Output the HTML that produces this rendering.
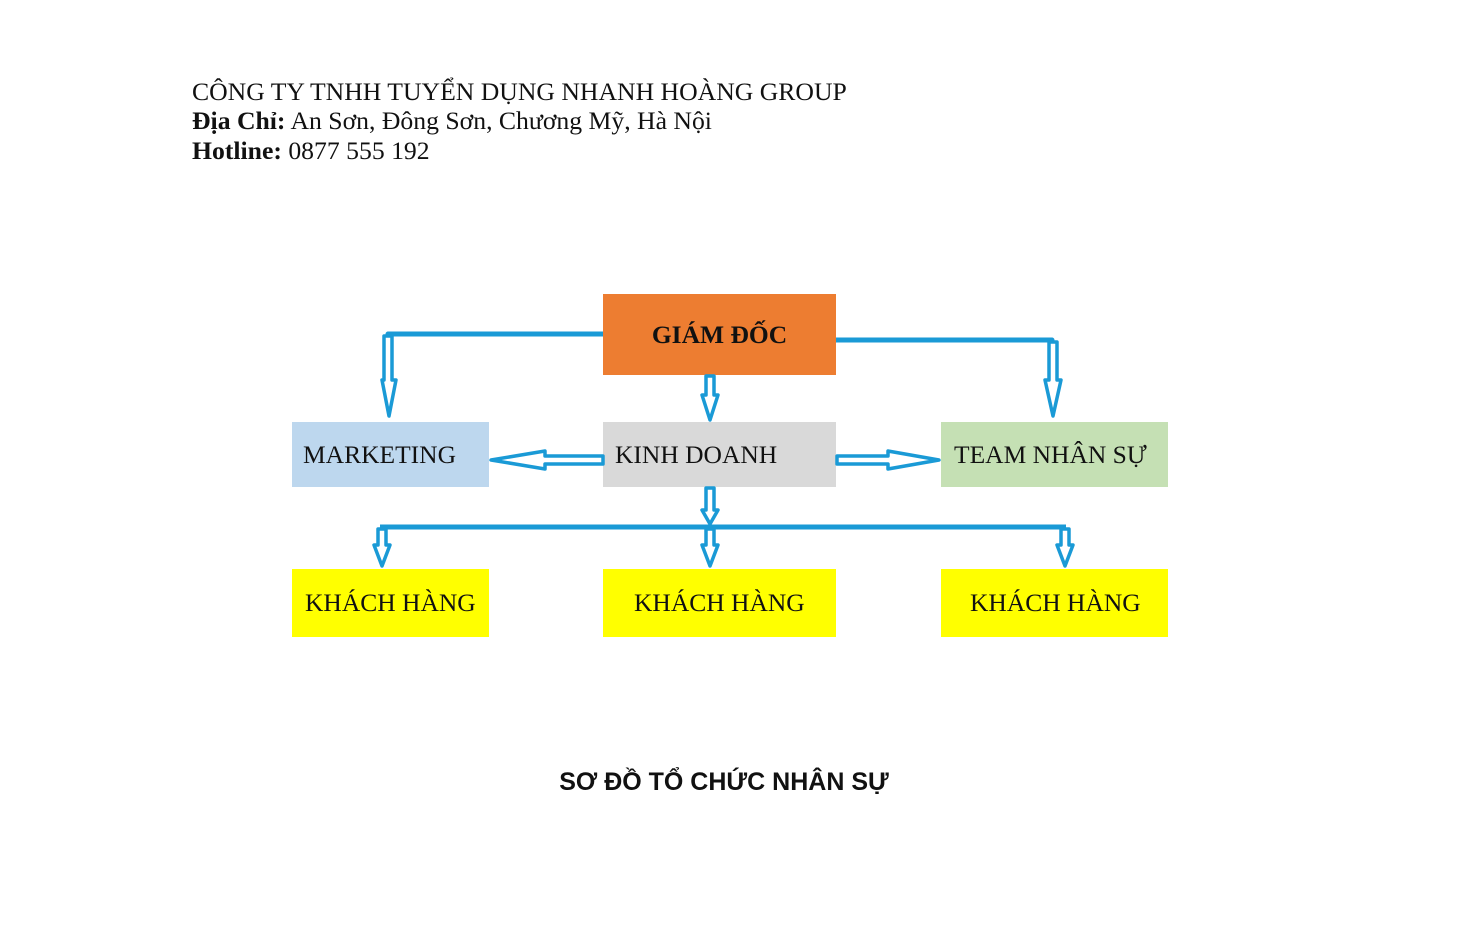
<!DOCTYPE html>
<html><head><meta charset="utf-8"><style>
body{margin:0;width:1472px;height:944px;background:#fff;position:relative;overflow:hidden;font-family:"Liberation Serif",serif;}
.h{position:absolute;left:192px;font-size:25.7px;color:#111;white-space:nowrap;line-height:30px}
.b{position:absolute;font-size:25.5px;color:#111;display:flex;align-items:center;white-space:nowrap;box-sizing:border-box}
svg{position:absolute;left:0;top:0}
</style></head><body>
<div class="h" style="top:77px">CÔNG TY TNHH TUYỂN DỤNG NHANH HOÀNG GROUP</div>
<div class="h" style="top:106px"><b>Địa Chỉ:</b> An Sơn, Đông Sơn, Chương Mỹ, Hà Nội</div>
<div class="h" style="top:136px"><b>Hotline:</b> 0877 555 192</div>

<div class="b" style="left:603px;top:294px;width:233px;height:81px;background:#ed7d31;justify-content:center;font-weight:bold;padding-top:0px">GIÁM ĐỐC</div>
<div class="b" style="left:292px;top:422px;width:197px;height:65px;background:#bdd7ee;padding-left:11px">MARKETING</div>
<div class="b" style="left:603px;top:422px;width:233px;height:65px;background:#d9d9d9;padding-left:12px">KINH DOANH</div>
<div class="b" style="left:941px;top:422px;width:227px;height:65px;background:#c5e0b4;padding-left:13px">TEAM NHÂN SỰ</div>
<div class="b" style="left:292px;top:569px;width:197px;height:68px;background:#ffff00;padding-left:13px">KHÁCH HÀNG</div>
<div class="b" style="left:603px;top:569px;width:233px;height:68px;background:#ffff00;padding-left:31px">KHÁCH HÀNG</div>
<div class="b" style="left:941px;top:569px;width:227px;height:68px;background:#ffff00;padding-left:29px">KHÁCH HÀNG</div>

<svg width="1472" height="944">
<g stroke="#1a9ad6" stroke-width="5" fill="none" stroke-linejoin="round">
<polyline points="603,334 388,334 388,340"/>
<polyline points="836,340 1052,340 1052,346"/>
<polyline points="380,527 1066,527"/>
</g>
<g stroke="#1a9ad6" stroke-width="3.5" fill="#fff" stroke-linejoin="round">
<polygon points="384,336 392,336 392,380 396,380 389,416 382,380 384,380"/>
<polygon points="706,376 714,376 714,395 718,395 710,420 702,395 706,395"/>
<polygon points="1049,342 1057,342 1057,380 1061,380 1053,416 1045,380 1049,380"/>
<polygon points="603,456 603,464 545,464 545,469 491,460 545,451 545,456"/>
<polygon points="837,456 837,464 888,464 888,469 939,460 888,451 888,456"/>
<polygon points="706,488 714,488 714,510 718,510 710,524 702,510 706,510"/>
<polygon points="378,529 386,529 386,545 390,545 382,566 374,545 378,545"/>
<polygon points="706,529 714,529 714,545 718,545 710,566 702,545 706,545"/>
<polygon points="1061,529 1069,529 1069,545 1073,545 1065,566 1057,545 1061,545"/>
</g>
</svg>

<div style="position:absolute;left:0;width:1448px;top:768px;text-align:center;font-family:'Liberation Sans',sans-serif;font-weight:bold;font-size:25px;color:#111">SƠ ĐỒ TỔ CHỨC NHÂN SỰ</div>
</body></html>
